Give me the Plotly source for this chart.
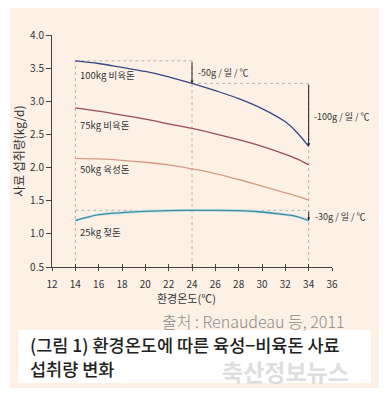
import plotly.graph_objects as go

temps = [14, 16, 18, 20, 22, 24, 26, 28, 30, 32, 33, 34]
pig100 = [3.61, 3.57, 3.51, 3.45, 3.37, 3.27, 3.16, 3.04, 2.89, 2.69, 2.53, 2.32]
pig75 = [2.90, 2.85, 2.79, 2.73, 2.66, 2.59, 2.51, 2.42, 2.32, 2.20, 2.13, 2.04]
pig50 = [2.14, 2.13, 2.11, 2.08, 2.04, 1.98, 1.91, 1.82, 1.72, 1.62, 1.57, 1.51]
pig25 = [1.20, 1.29, 1.32, 1.34, 1.35, 1.355, 1.355, 1.35, 1.33, 1.29, 1.26, 1.20]

series_names = ["100kg 비육돈", "75kg 비육돈", "50kg 육성돈", "25kg 젖돈"]
series_colors = ["#3b4587", "#9a4b5a", "#d49a86", "#3d8a9c"]
series_values = [pig100, pig75, pig50, pig25]
rate_labels = ["-50g / 일 / ℃", "-100g / 일 / ℃", "-30g / 일 / ℃"]

x_ticks = list(range(12, 37, 2))
y_ticks = [0.5, 1.0, 1.5, 2.0, 2.5, 3.0, 3.5, 4.0]

KO = "Noto Sans CJK KR"
NARROW = "Liberation Sans Narrow, Arial Narrow, " + KO

fig = go.Figure()

for name, col, vals in zip(series_names, series_colors, series_values):
    if name.startswith("25kg"):
        fig.add_trace(go.Scatter(x=temps, y=vals, mode="lines", line=dict(color="#c6e4ee", width=3, shape="spline"),
                                 hoverinfo="skip", showlegend=False))
    fig.add_trace(go.Scatter(x=temps, y=vals, mode="lines", name=name,
                             line=dict(color=col, width=1.3, shape="spline"), showlegend=False))

t0, tm, t1 = temps[0], temps[5], temps[-1]
top100 = pig100[0]
mid100 = pig100[5]
end100 = pig100[-1]
lvl25 = max(pig25)
end25 = pig25[-1]
ybot = y_ticks[0]

dot = dict(color="#b8b0aa", width=1, dash="dot")
shapes = [
    dict(type="rect", xref="paper", yref="paper", x0=-0.15, x1=1.175, y0=-0.522, y1=1.116,
         fillcolor="#fdf1e6", line=dict(width=0), layer="below"),
    dict(type="rect", xref="paper", yref="paper", x0=-0.121, x1=1.139, y0=-0.500, y1=-0.272,
         fillcolor="#ffffff", line=dict(width=0), layer="below"),
    dict(type="line", x0=t0, x1=t0, y0=ybot, y1=top100, line=dot, layer="below"),
    dict(type="line", x0=tm, x1=tm, y0=ybot, y1=top100, line=dot, layer="below"),
    dict(type="line", x0=t1, x1=t1, y0=ybot, y1=mid100, line=dot, layer="below"),
    dict(type="line", x0=t0, x1=tm, y0=top100, y1=top100, line=dot, layer="below"),
    dict(type="line", x0=tm, x1=t1, y0=mid100, y1=mid100, line=dot, layer="below"),
    dict(type="line", x0=t0, x1=t1, y0=lvl25, y1=lvl25, line=dot, layer="below"),
]

ann = []
for (xa, ya0, ya1) in [(tm, top100, mid100), (t1, mid100, end100), (t1, lvl25, end25)]:
    ann.append(dict(x=xa, y=ya1, ax=xa, ay=ya0, xref="x", yref="y", axref="x", ayref="y",
                    showarrow=True, arrowhead=2, arrowsize=0.6, arrowwidth=1, arrowcolor="#222", text=""))
ann.append(dict(x=tm + 0.3, y=top100 - 0.18, text=rate_labels[0], showarrow=False, xanchor="left",
                font=dict(family=NARROW, size=9, color="#333")))
ann.append(dict(x=t1 + 0.3, y=(mid100 + end100) / 2 - 0.03, text=rate_labels[1], showarrow=False, xanchor="left",
                font=dict(family=NARROW, size=9, color="#333")))
ann.append(dict(x=t1 + 0.4, y=(lvl25 + end25) / 2 - 0.01, text=rate_labels[2], showarrow=False, xanchor="left",
                font=dict(family=NARROW, size=9, color="#333")))
label_y = [pig100[0] - 0.21, pig75[0] - 0.26, pig50[0] - 0.16, pig25[0] - 0.17]
for name, ly in zip(series_names, label_y):
    ann.append(dict(x=t0 + 0.2, y=ly, text=name, showarrow=False, xanchor="left",
                    font=dict(family=NARROW, size=9.5, color="#333")))

ann.append(dict(xref="paper", yref="paper", x=-0.121, y=0.5, xanchor="center", yanchor="middle",
                text="사료 섭취량(kg/d)", textangle=-90,
                showarrow=False, font=dict(family=KO, size=12, color="#333")))
ann.append(dict(xref="paper", yref="paper", x=0.482, y=-0.134, xanchor="center", yanchor="middle",
                text="환경온도(℃)", showarrow=False, font=dict(family=KO, size=11, color="#333")))
ann.append(dict(xref="paper", yref="paper", x=1.054, y=-0.233, xanchor="right", yanchor="middle",
                text="출처 : Renaudeau 등, 2011",
                showarrow=False, font=dict(family=KO, size=16, color="#8a8a8a", weight=300)))
ann.append(dict(xref="paper", yref="paper", x=-0.0857, y=-0.336, xanchor="left", yanchor="middle",
                text="(그림 1) 환경온도에 따른 육성−비육돈 사료", showarrow=False,
                font=dict(family=KO, size=17.5, color="#222", weight=500)))
ann.append(dict(xref="paper", yref="paper", x=-0.0857, y=-0.437, xanchor="left", yanchor="middle",
                text="섭취량 변화", showarrow=False, font=dict(family=KO, size=17.5, color="#222", weight=500)))
ann.append(dict(xref="paper", yref="paper", x=0.6, y=-0.447, xanchor="left", yanchor="middle",
                text="축산정보뉴스", showarrow=False, font=dict(family=KO, size=23, color="#dedede", weight=700)))

fig.update_layout(
    width=371, height=382,
    margin=dict(l=44, r=47, t=27, b=123),
    paper_bgcolor="#ffffff", plot_bgcolor="rgba(0,0,0,0)",
    shapes=shapes, annotations=ann, showlegend=False,
    xaxis=dict(range=[12, 36], tickvals=x_ticks, ticks="inside", ticklen=3, tickcolor="#444",
               showline=True, linecolor="#444", linewidth=1, showgrid=False, zeroline=False,
               ticklabelstandoff=8,
               tickfont=dict(family=NARROW, size=10, color="#333")),
    xaxis2=dict(range=[12, 36], tickvals=x_ticks, ticks="outside", ticklen=3, tickcolor="#444",
                showticklabels=False, overlaying="x", side="bottom", showgrid=False, zeroline=False,
                anchor="y"),
    yaxis=dict(range=[0.5, 4.0], tickvals=y_ticks, ticktext=[f"{v:.1f}" for v in y_ticks],
               ticks="outside", ticklen=5, tickcolor="#444",
               showline=True, linecolor="#444", linewidth=1, showgrid=False, zeroline=False,
               tickfont=dict(family=NARROW, size=10, color="#333")),
)
fig.add_trace(go.Scatter(x=[12], y=[0.5], xaxis="x2", mode="markers", marker=dict(opacity=0),
                         hoverinfo="skip", showlegend=False))

fig.write_html("out.html")
